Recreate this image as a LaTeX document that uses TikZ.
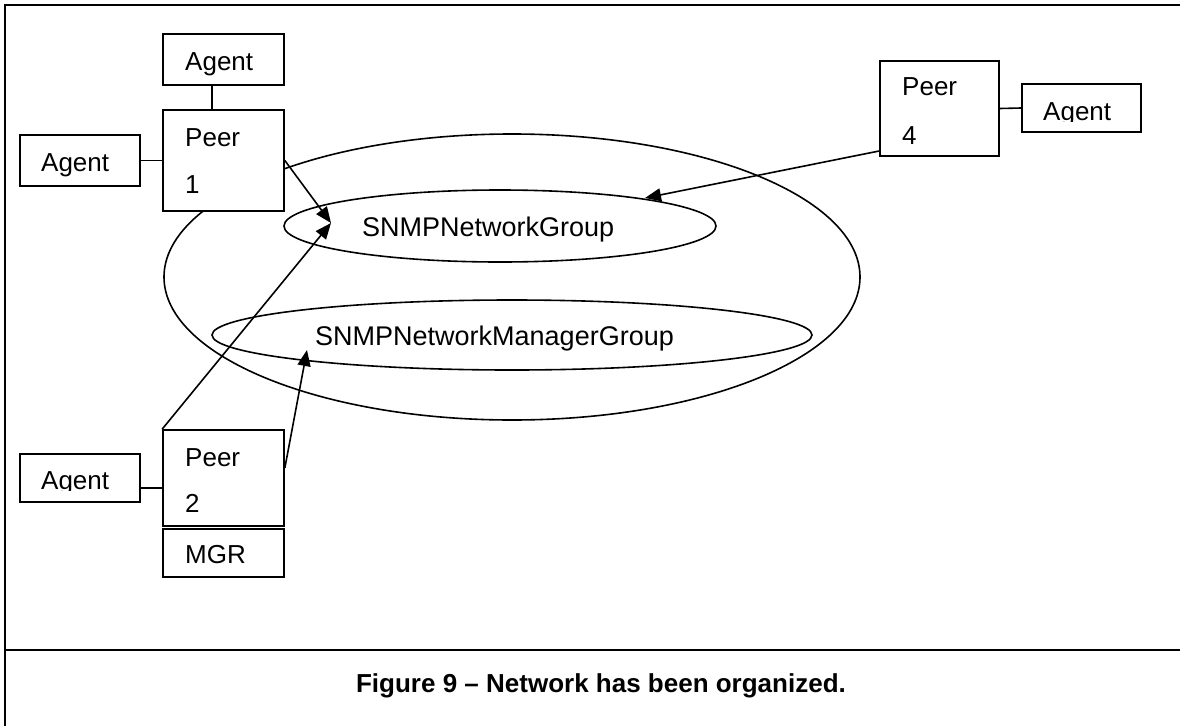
\documentclass[tikz,border=0pt]{standalone}
\usepackage{fontspec}
\setmainfont{Liberation Sans}
\usetikzlibrary{arrows.meta,shapes.geometric}
\begin{document}
\begin{tikzpicture}[x=1pt,y=-1pt,
  box/.style={draw, line width=1.7pt, fill=white, inner sep=0pt,
    minimum width=121pt},
  lbl/.style={anchor=base west, inner sep=0pt, font=\fontsize{26}{30}\selectfont},
  grp/.style={draw, line width=1.6pt, ellipse, inner sep=0pt},
  glbl/.style={anchor=base west, inner sep=0pt, font=\fontsize{27}{32}\selectfont},
  wire/.style={line width=1.6pt},
  link/.style={line width=1.6pt, -{Triangle[length=16pt,width=13pt]}}]
\useasboundingbox (0,0) rectangle (1180,726);

% frame and caption rule
\draw[line width=2.5pt] (5,726) -- (5,5) -- (1180,5);
\draw[line width=2.8pt] (5,650) -- (1180,650);

% the overall group and its two sub-groups
\node[grp, minimum width=696pt, minimum height=286pt] (all) at (512,277) {};
\node[grp, minimum width=432pt, minimum height=72pt] (sng) at (500,226) {};
\node[grp, minimum width=600pt, minimum height=70pt] (snmg) at (512,335) {};
\node[glbl] (sngt) at (362,236) {SNMPNetworkGroup};
\node[glbl] (snmgt) at (315,345) {SNMPNetworkManagerGroup};

% peer 1 with its agents
\node[box, minimum height=51pt] (a1top) at (223.5,59.5) {};
\node[box, minimum height=101pt] (p1) at (223.5,160.5) {};
\node[box, minimum height=51pt, minimum width=120pt] (a1left) at (80,160.5) {};
\node[lbl] at (185,70) {Agent};
\node[lbl] at (41,171) {Agent};
\node[lbl] at (185,146) {Peer};
\node[lbl] at (185,193) {1};
\draw[wire] (a1top.south -| 212,0) -- (p1.north -| 212,0);
\draw[wire] (a1left.east) -- (p1.west);

% peer 2 with its agent and manager
\node[box, minimum height=96pt] (p2) at (223.5,478) {};
\node[box, minimum height=48pt] (mgr) at (223.5,553) {};
\node[box, minimum height=48pt, minimum width=120pt] (a2) at (80,478) {};
\node[lbl] at (185,466) {Peer};
\node[lbl] at (185,512) {2};
\node[lbl] at (185,563) {MGR};
\begin{scope}
  \clip (22,455) rectangle (138,490.5);
  \node[lbl] at (41,489.5) {Agent};
\end{scope}
\draw[wire] (a2.east |- 0,488) -- (p2.west |- 0,488);

% peer 4 with its agent
\node[box, minimum height=95pt, minimum width=119pt] (p4) at (939.5,108.5) {};
\node[box, minimum height=48pt, minimum width=119pt] (a4) at (1081.5,108) {};
\node[lbl] at (902,95) {Peer};
\node[lbl] at (902,144) {4};
\begin{scope}
  \clip (1024,85) rectangle (1139,121.5);
  \node[lbl] at (1043,120.5) {Agent};
\end{scope}
\draw[wire] (p4.east) -- (a4.west);

% membership links
\coordinate (sngin) at (331,223);
\coordinate (sngtop) at (645,198);
\coordinate (snmgin) at (307,350);
\draw[link] (p1.east) -- (sngin);
\draw[link] (p2.north west) -- (sngin);
\draw[link] (p2.east |- 0,468) -- (snmgin);
\draw[link] (p4.south west |- 0,151) -- (sngtop);

% caption
\node[anchor=base, inner sep=0pt, font=\bfseries\fontsize{26}{30}\selectfont]
  (cap) at (601,692) {Figure 9 – Network has been organized.};
\end{tikzpicture}
\end{document}
